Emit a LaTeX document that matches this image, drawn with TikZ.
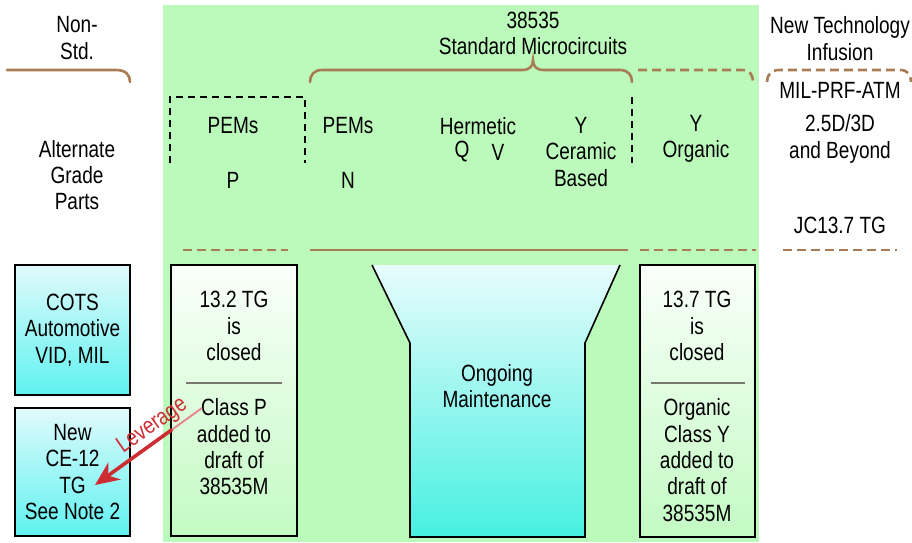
\documentclass[tikz,border=0pt]{standalone}
\usepackage{fontspec}
\setmainfont[FakeStretch=0.81]{Liberation Sans}
\usetikzlibrary{arrows.meta,shadings,calc}
\definecolor{bg}{RGB}{188,250,188}
\definecolor{brn}{RGB}{168,124,84}
\definecolor{cyT}{RGB}{225,250,252}
\definecolor{cyB}{RGB}{95,242,240}
\definecolor{gnT}{RGB}{250,255,250}
\definecolor{gnB}{RGB}{195,250,195}
\definecolor{fnT}{RGB}{232,252,252}
\definecolor{fnB}{RGB}{70,240,225}
\definecolor{lev}{RGB}{205,45,50}
\definecolor{divc}{RGB}{120,120,110}
\begin{document}
\begin{tikzpicture}[x=1pt,y=-1pt,
  txt/.style={font=\fontsize{23.5}{26.3}\selectfont, align=center, inner sep=0pt},
  brace/.style={draw=brn, line width=2.6pt, line cap=round},
  dbrace/.style={draw=brn, line width=2.6pt, dash pattern=on 9pt off 5pt},
  dbox/.style={draw=black, line width=1.6pt, dash pattern=on 7pt off 5pt},
  boxst/.style={draw=black, line width=1.6pt, inner sep=0pt},
  cybox/.style={boxst, top color=cyT, bottom color=cyB, minimum width=115pt, minimum height=130pt},
  gnbox/.style={boxst, top color=gnT, bottom color=gnB},
  divline/.style={draw=divc, line width=1.2pt}]
\useasboundingbox (0,0) rectangle (912,542);
\fill[bg] (163,5) rectangle (759,542);

% braces
\draw[brace] (7,70) -- (116,70) .. controls (126,70) and (130,75) .. (130,82);
\draw[brace] (310,82) .. controls (310,75) and (314,70) .. (322,70) -- (522,70)
  .. controls (530,70) and (533,66) .. (533,60)
  .. controls (533,66) and (536,70) .. (544,70) -- (620,70)
  .. controls (628,70) and (632,75) .. (632,82);
\draw[dbrace] (638,70) -- (742,70) .. controls (750,70) and (753,75) .. (753,82);
\draw[dbrace] (767,82) .. controls (767,75) and (771,70) .. (779,70) -- (900,70) .. controls (908,70) and (911,75) .. (911,82);

% heading texts
\node[txt] (nonstd) at (77,38) {Non-\\Std.};
\node[txt] (std) at (533,33.5) {38535\\Standard Microcircuits};
\node[txt] (newtech) at (840,38.5) {New Technology\\Infusion};
\node[txt] (milprf) at (840,90) {MIL-PRF-ATM};
\node[txt] (beyond) at (840,139) {2.5D/3D\\and Beyond};
\node[txt] (jc) at (840,225) {JC13.7 TG};
\node[txt] (alt) at (77,175) {Alternate\\Grade\\Parts};

% dashed PEM box
\draw[dbox] (170,163) -- (170,97) -- (305,97) -- (305,163);
\draw[dbox] (632,97) -- (632,163);

\node[txt] (pemsP) at (233,126) {PEMs};
\node[txt] (classPh) at (233,180) {P};
\node[txt] (pemsN) at (348,126) {PEMs};
\node[txt] (classN) at (348,180) {N};
\node[txt] (herm) at (478,126) {Hermetic};
\node[txt] (classQ) at (462,152) {Q};
\node[txt] (classV) at (498,152) {V};
\node[txt] (ceramic) at (581,152) {Y\\Ceramic\\Based};
\node[txt] (organic) at (696,139) {Y\\Organic};

% separator lines
\draw[dbrace] (183,250) -- (288,250);
\draw[draw=brn, line width=2.4pt] (310,250) -- (628,250);
\draw[dbrace] (640,250) -- (756,250);
\draw[dbrace] (783,250) -- (897,250);

% left boxes
\node[cybox, txt, draw=black, line width=1.6pt] (cots) at (72.5,330) {COTS\\Automotive\\VID, MIL};
\node[cybox, txt, draw=black, line width=1.6pt, minimum height=128pt] (newce) at (72.5,472) {New\\CE-12\\TG\\See Note 2};

% 13.2 box
\node[gnbox, minimum width=126pt, minimum height=271pt] (b132) at (234,400.5) {};
\draw[divline] (186,383) -- (282,383);
\node[txt] (closed1) at (234,326) {13.2 TG\\is\\closed};
\node[txt] (classP) at (234,447) {Class P\\added to\\draft of\\38535M};

% funnel
\shade[top color=fnT, bottom color=fnB] (372,265) -- (410,343) -- (410,537) -- (585,537) -- (585,343) -- (620,265) -- cycle;
\draw[line width=1.6pt, line join=miter] (372,265) -- (410,343) -- (410,537) -- (585,537) -- (585,343) -- (620,265);
\node[txt] (ongoing) at (497,386) {Ongoing\\Maintenance};

% 13.7 box
\node[gnbox, minimum width=115pt, minimum height=272pt] (b137) at (697.5,401) {};
\draw[divline] (651,383) -- (745,383);
\node[txt] (closed2) at (697,326) {13.7 TG\\is\\closed};
\node[txt] (orgY) at (697,460) {Organic\\Class Y\\added to\\draft of\\38535M};

% leverage arrow
\coordinate (levS) at (202,408);
\coordinate (levE) at (95,485);
\draw[draw=lev!55, line width=2pt] (levS) -- ($(levS)!0.3!(levE)$);
\draw[draw=lev, line width=3.6pt, -{Stealth[length=24pt,width=21pt]}] ($(levS)!0.28!(levE)$) -- (levE);
\node[txt, text=lev, rotate=35] (levtxt) at (152.5,426) {Leverage};
\end{tikzpicture}
\end{document}
